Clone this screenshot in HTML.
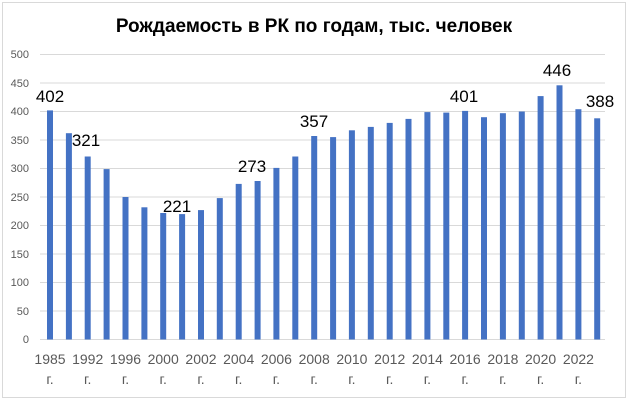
<!DOCTYPE html>
<html><head><meta charset="utf-8"><style>
html,body{margin:0;padding:0;background:#fff;}
svg{display:block;}
</style></head><body>
<svg width="629" height="401" viewBox="0 0 629 401" xmlns="http://www.w3.org/2000/svg" font-family="Liberation Sans, sans-serif">
<rect x="2.5" y="2.5" width="623" height="395" fill="#fff" stroke="#d9d9d9"/>
<text x="314" y="32" text-anchor="middle" font-size="19" font-weight="bold" fill="#000">Рождаемость в РК по годам, тыс. человек</text>
<g stroke="#d9d9d9" stroke-width="1">
<line x1="40" x2="605" y1="54.5" y2="54.5"/><line x1="40" x2="605" y1="83" y2="83"/>
<line x1="40" x2="605" y1="111.5" y2="111.5"/><line x1="40" x2="605" y1="140" y2="140"/>
<line x1="40" x2="605" y1="168.5" y2="168.5"/><line x1="40" x2="605" y1="197" y2="197"/>
<line x1="40" x2="605" y1="225.5" y2="225.5"/><line x1="40" x2="605" y1="254" y2="254"/>
<line x1="40" x2="605" y1="282.5" y2="282.5"/><line x1="40" x2="605" y1="311" y2="311"/>
<line x1="40" x2="605" y1="339.5" y2="339.5"/>
</g>
<g font-size="11" fill="#595959" text-anchor="end">
<text x="29" y="58">500</text><text x="29" y="87">450</text><text x="29" y="115">400</text>
<text x="29" y="144">350</text><text x="29" y="172">300</text><text x="29" y="201">250</text>
<text x="29" y="229">200</text><text x="29" y="258">150</text><text x="29" y="286">100</text>
<text x="29" y="315">50</text><text x="29" y="343">0</text>
</g>
<g fill="#4472c4">
<rect x="47" y="110.4" width="6" height="229.1"/>
<rect x="65.9" y="133.2" width="6" height="206.3"/>
<rect x="84.7" y="156.5" width="6" height="183"/>
<rect x="103.6" y="169.1" width="6" height="170.4"/>
<rect x="122.5" y="197" width="6" height="142.5"/>
<rect x="141.4" y="207.3" width="6" height="132.2"/>
<rect x="160.2" y="213" width="6" height="126.5"/>
<rect x="179.1" y="214.1" width="6" height="125.4"/>
<rect x="198" y="210.1" width="6" height="129.4"/>
<rect x="216.8" y="198.1" width="6" height="141.4"/>
<rect x="235.7" y="183.9" width="6" height="155.6"/>
<rect x="254.6" y="181" width="6" height="158.5"/>
<rect x="273.4" y="167.9" width="6" height="171.6"/>
<rect x="292.3" y="156.5" width="6" height="183"/>
<rect x="311.2" y="136" width="6" height="203.5"/>
<rect x="330.1" y="137.1" width="6" height="202.4"/>
<rect x="348.9" y="130.3" width="6" height="209.2"/>
<rect x="367.8" y="126.9" width="6" height="212.6"/>
<rect x="386.7" y="122.9" width="6" height="216.6"/>
<rect x="405.5" y="118.9" width="6" height="220.6"/>
<rect x="424.4" y="112.1" width="6" height="227.4"/>
<rect x="443.3" y="112.6" width="6" height="226.9"/>
<rect x="462.1" y="110.9" width="6" height="228.6"/>
<rect x="481" y="117.2" width="6" height="222.3"/>
<rect x="499.9" y="113.2" width="6" height="226.3"/>
<rect x="518.8" y="111.5" width="6" height="228"/>
<rect x="537.6" y="96.1" width="6" height="243.4"/>
<rect x="556.5" y="85.3" width="6" height="254.2"/>
<rect x="575.4" y="109.2" width="6" height="230.3"/>
<rect x="594.2" y="118.3" width="6" height="221.2"/>
</g>
<g font-size="14" fill="#595959" text-anchor="middle">
<text x="50" y="364">1985</text><text x="50" y="384">г.</text>
<text x="87.7" y="364">1992</text><text x="87.7" y="384">г.</text>
<text x="125.5" y="364">1996</text><text x="125.5" y="384">г.</text>
<text x="163.2" y="364">2000</text><text x="163.2" y="384">г.</text>
<text x="201" y="364">2002</text><text x="201" y="384">г.</text>
<text x="238.7" y="364">2004</text><text x="238.7" y="384">г.</text>
<text x="276.4" y="364">2006</text><text x="276.4" y="384">г.</text>
<text x="314.2" y="364">2008</text><text x="314.2" y="384">г.</text>
<text x="351.9" y="364">2010</text><text x="351.9" y="384">г.</text>
<text x="389.7" y="364">2012</text><text x="389.7" y="384">г.</text>
<text x="427.4" y="364">2014</text><text x="427.4" y="384">г.</text>
<text x="465.1" y="364">2016</text><text x="465.1" y="384">г.</text>
<text x="502.9" y="364">2018</text><text x="502.9" y="384">г.</text>
<text x="540.6" y="364">2020</text><text x="540.6" y="384">г.</text>
<text x="578.4" y="364">2022</text><text x="578.4" y="384">г.</text>
</g>
<g font-size="17" fill="#000" text-anchor="middle">
<text x="50" y="102">402</text><text x="86" y="146">321</text><text x="177" y="212">221</text>
<text x="252" y="172">273</text><text x="314" y="127">357</text><text x="464" y="102">401</text>
<text x="557" y="76">446</text><text x="600" y="107">388</text>
</g>
</svg>
</body></html>
